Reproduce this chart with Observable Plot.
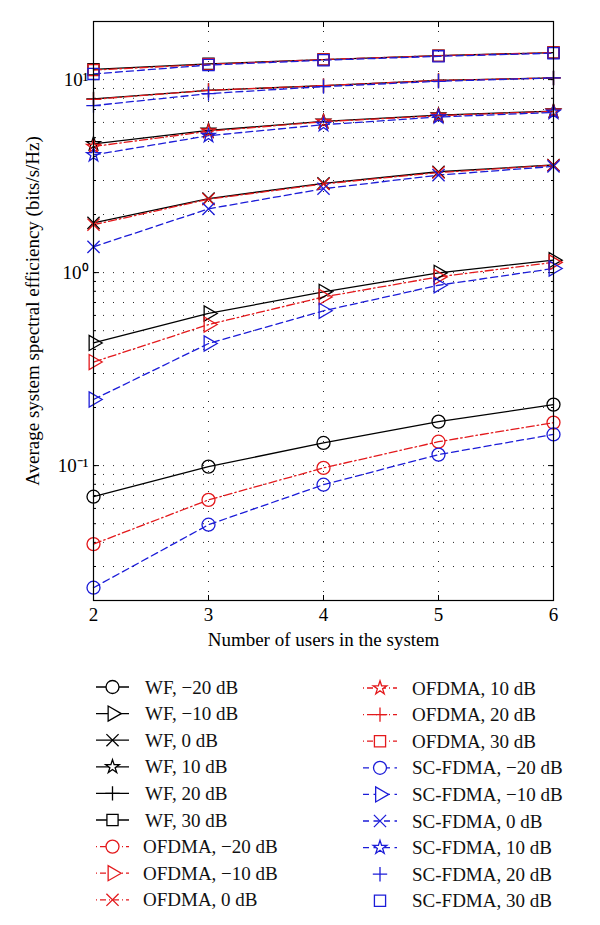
<!DOCTYPE html>
<html><head><meta charset="utf-8">
<script src="https://cdn.jsdelivr.net/npm/d3@7"></script>
<script src="https://cdn.jsdelivr.net/npm/@observablehq/plot@0.6"></script>
<style>
body{margin:0;background:#fff;}
#chart{position:relative;width:600px;height:925px;font-family:"Liberation Serif",serif;}
#chart svg{display:block;}
#legend{position:absolute;left:0;top:655px;}
</style></head><body><div id="chart"></div>
<script>
// ---- data ----
const users = [2, 3, 4, 5, 6];
const snrLabels = ["−20 dB", "−10 dB", "0 dB", "10 dB", "20 dB", "30 dB"];
const schemes = ["WF", "OFDMA", "SC-FDMA"];
// rows: SNR −20, −10, 0, 10, 20, 30 dB ; columns: users 2..6
const wfValues = [
  [0.069, 0.0988, 0.131, 0.169, 0.207],
  [0.432, 0.614, 0.795, 0.997, 1.16],
  [1.81, 2.42, 2.90, 3.33, 3.61],
  [4.65, 5.45, 6.07, 6.55, 6.87],
  [7.94, 8.8, 9.3, 9.9, 10.2],
  [11.3, 12.07, 12.7, 13.3, 13.8]
];
const ofdmaValues = [
  [0.0392, 0.0664, 0.0973, 0.133, 0.167],
  [0.344, 0.538, 0.748, 0.95, 1.13],
  [1.77, 2.40, 2.88, 3.30, 3.60],
  [4.50, 5.40, 6.05, 6.50, 6.85],
  [7.9, 8.8, 9.3, 9.9, 10.2],
  [11.2, 12.0, 12.7, 13.3, 13.8]
];
const scfdmaValues = [
  [0.0233, 0.0494, 0.0796, 0.114, 0.145],
  [0.22, 0.429, 0.634, 0.86, 1.05],
  [1.36, 2.14, 2.72, 3.2, 3.55],
  [4.07, 5.12, 5.84, 6.4, 6.76],
  [7.33, 8.46, 9.2, 9.8, 10.2],
  [10.7, 11.9, 12.6, 13.2, 13.7]
];
const yMajorTicks = [0.1, 1, 10];
const yMajorLabels = ["10⁻¹", "10⁰", "10¹"];
const xLabel = "Number of users in the system";
const yLabel = "Average system spectral efficiency (bits/s/Hz)";

// ---- styles ----
const FS = 19;
const schemeColor = ["#000000", "#e3191c", "#1c1cd8"];
const schemeDash = [null, "8,3,1.5,3", "7,4"];
const symbolNames = ["circle", "triangle", "times", "star", "plus", "square"];
const symbolR = [6.5, 5.6, 5.6, 4.3, 4.7, 6.3];
const symbolRotate = [0, 90, 0, 0, 0, 0];
const allValues = [wfValues, ofdmaValues, scfdmaValues];

const yDomain = [0.02, 20];
const yAllTicks = d3.scaleLog().domain(yDomain).ticks();
const gridStyle = {stroke: "#000", strokeOpacity: 0.85, strokeDasharray: "1,9", strokeWidth: 1};

const marks = [
  Plot.gridX(users, gridStyle),
  Plot.gridY(yAllTicks, gridStyle),
  Plot.axisX(users, {anchor: "bottom", tickSize: -5, tickPadding: 12, label: null, fontSize: FS,
    tickFormat: d => String(d)}),
  Plot.axisX(users, {anchor: "top", tickSize: -5, tickFormat: () => "", label: null}),
  Plot.axisY(yMajorTicks, {anchor: "left", tickSize: -6, tickPadding: 11, label: null, fontSize: FS,
    tickFormat: d => yMajorLabels[yMajorTicks.indexOf(d)]}),
  Plot.axisY(yMajorTicks, {anchor: "right", tickSize: -6, tickFormat: () => "", label: null}),
  Plot.axisY(yAllTicks, {anchor: "left", tickSize: -3, tickFormat: () => "", label: null}),
  Plot.axisY(yAllTicks, {anchor: "right", tickSize: -3, tickFormat: () => "", label: null}),
  Plot.text([xLabel], {frameAnchor: "bottom", dy: 39, fontSize: FS, fill: "#000",
    textAnchor: "middle", lineAnchor: "middle"}),
  Plot.text([yLabel], {frameAnchor: "left", dx: -61, rotate: -90, fontSize: FS, fill: "#000",
    textAnchor: "middle", lineAnchor: "middle"}),
];

allValues.forEach((rows, s) => {
  rows.forEach((vals, k) => {
    const data = users.map((u, i) => ({users: u, value: vals[i]}));
    marks.push(Plot.line(data, {x: "users", y: "value", stroke: schemeColor[s],
      strokeDasharray: schemeDash[s], strokeWidth: 1.3}));
  });
});
allValues.forEach((rows, s) => {
  rows.forEach((vals, k) => {
    const data = users.map((u, i) => ({users: u, value: vals[i]}));
    marks.push(Plot.dot(data, {x: "users", y: "value", stroke: schemeColor[s], fill: "none",
      symbol: symbolNames[k], r: symbolR[k], rotate: symbolRotate[k], strokeWidth: 1.3}));
  });
});
marks.push(Plot.frame({stroke: "#000", strokeWidth: 1.2}));

const chart = Plot.plot({
  width: 600,
  height: 655,
  marginTop: 21,
  marginBottom: 55,
  marginLeft: 93,
  marginRight: 47,
  style: {fontFamily: "Liberation Serif, serif", fontSize: FS + "px", color: "#000", background: "#fff"},
  x: {domain: [2, 6], axis: null},
  y: {type: "log", domain: yDomain, axis: null},
  marks
});
const host = document.getElementById("chart");
host.appendChild(chart);

// ---- legend ----
const entries = [];
schemes.forEach((sch, s) => snrLabels.forEach((lab, k) => entries.push({s, k, text: `${sch}, ${lab}`})));
const lg = d3.select(host).append("svg").attr("id", "legend").attr("width", 600).attr("height", 270);
const topOff = 655;
entries.forEach((e, idx) => {
  const col = idx < 9 ? 0 : 1;
  const row = idx % 9;
  const y = (col === 0 ? 687 : 688) + row * 26.6 - topOff;
  const x1 = col === 0 ? 96 : 363, x2 = col === 0 ? 129 : 397;
  const xm = (x1 + x2) / 2;
  const tx = col === 0 ? (e.s === 0 ? 145 : 143) : 412;
  const g = lg.append("g");
  const noLine = e.s === 2 && e.k >= 4;
  if (!noLine) {
    g.append("line").attr("x1", x1).attr("x2", x2).attr("y1", y).attr("y2", y)
      .attr("stroke", schemeColor[e.s]).attr("stroke-width", 1.3)
      .attr("stroke-dasharray", e.s === 1 ? "1,3,6,3" : e.s === 2 ? "6,4.5" : null);
  }
  const sym = {circle: d3.symbolCircle, triangle: d3.symbolTriangle, times: d3.symbolTimes,
    star: d3.symbolStar, plus: d3.symbolPlus, square: d3.symbolSquare}[symbolNames[e.k]];
  const r = symbolR[e.k];
  g.append("path").attr("d", d3.symbol(sym, r * r * Math.PI)())
    .attr("transform", `translate(${xm},${y}) rotate(${symbolRotate[e.k]})`)
    .attr("fill", "#fff").attr("stroke", schemeColor[e.s]).attr("stroke-width", 1.3);
  g.append("text").attr("x", tx).attr("y", y).attr("dy", "0.35em")
    .attr("font-family", "Liberation Serif, serif").attr("font-size", FS).attr("fill", "#111")
    .text(e.text);
});
</script></body></html>
